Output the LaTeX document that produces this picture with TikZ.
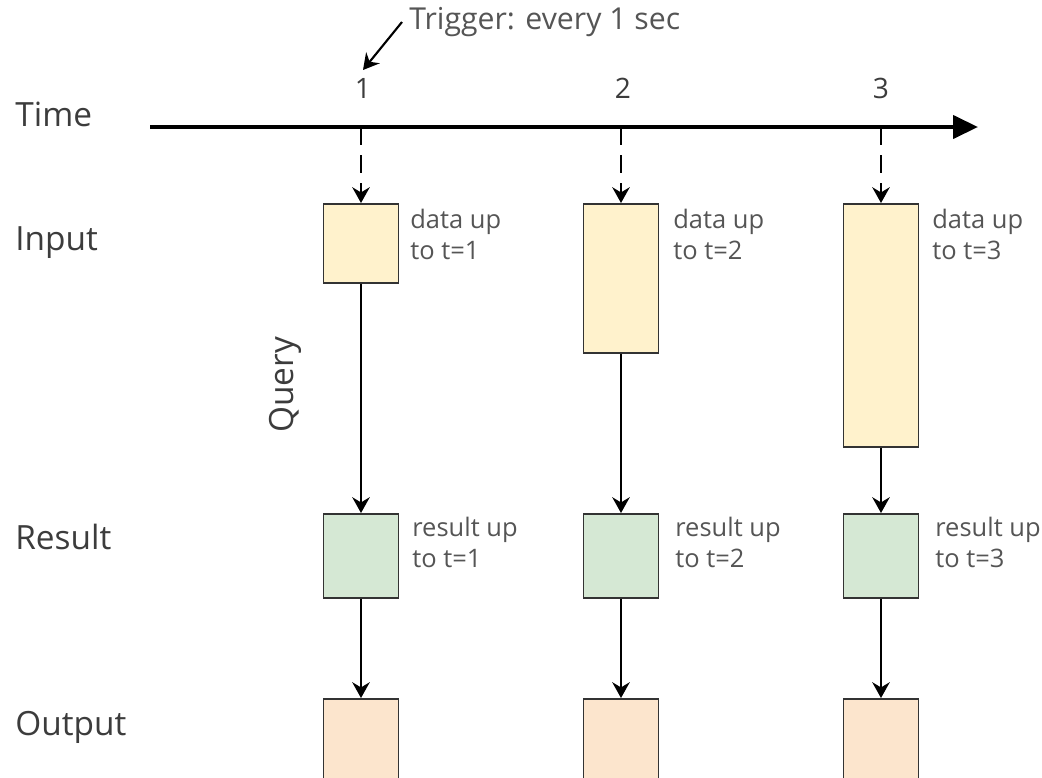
\documentclass[tikz,border=0pt]{standalone}
\usepackage{fontspec}
\setmainfont{Open Sans}
\usetikzlibrary{arrows.meta,positioning}
\definecolor{inputfill}{HTML}{FFF2CC}
\definecolor{resultfill}{HTML}{D5E8D4}
\definecolor{outputfill}{HTML}{FCE5CD}
\definecolor{boxline}{HTML}{333333}
\definecolor{labelgray}{HTML}{3C3C3C}
\definecolor{notegray}{HTML}{555555}
\tikzset{
  rowlabel/.style={anchor=west,text=labelgray,inner sep=0pt,font=\fontsize{19}{22}\selectfont},
  note/.style={anchor=north west,text=notegray,inner sep=0pt,align=left,font=\fontsize{14.5}{17.5}\selectfont},
  ticklabel/.style={text=labelgray,font=\fontsize{16}{19}\selectfont},
  databox/.style={draw=boxline,line width=1.1pt,anchor=north,inner sep=0pt,minimum width=1.5cm},
  flow/.style={line width=1.2pt,-{Stealth[length=9pt,width=10pt,inset=3pt]}}
}
\begin{document}
\begin{tikzpicture}[x=0.02cm,y=-0.02cm]
\useasboundingbox (0,0) rectangle (1042,778);

% row labels
\node[rowlabel] (time) at (15,114) {Time};
\node[rowlabel] (input) at (15,243) {Input};
\node[rowlabel] (result) at (15,537) {Result};
\node[rowlabel] (output) at (15,727) {Output};
\node[rowlabel,anchor=center,rotate=90] (query) at (285,385) {Query};

% time axis
\coordinate (t0) at (150,127);
\coordinate (tend) at (978,127);
\coordinate (t1) at (361,127);
\coordinate (t2) at (621,127);
\coordinate (t3) at (881,127);
\draw [line width=2.4pt,-{Triangle[length=0.5cm,width=0.46cm]}](t0) -- (tend);
\node[ticklabel] (n1) at (363,88) {1};
\node[ticklabel] (n2) at (623,88) {2};
\node[ticklabel] (n3) at (881,88) {3};

% trigger
\node[note,anchor=west,inner xsep=4pt,font=\fontsize{17.2}{20}\selectfont] (trig) at (402,22) {Trigger: every 1 sec};
\coordinate (trigtip) at (363,70);
\draw [flow](trig.west) -- (trigtip);

% input boxes
\node[databox,fill=inputfill,minimum height=1.58cm] (in1) at (361,203) {};
\node[databox,fill=inputfill,minimum height=2.98cm] (in2) at (621,203) {};
\node[databox,fill=inputfill,minimum height=4.86cm] (in3) at (881,203) {};
\node[note] (d1) at (410,209) {data up\\to t=1};
\node[note] (d2) at (673,209) {data up\\to t=2};
\node[note] (d3) at (932,209) {data up\\to t=3};

% result boxes
\node[databox,fill=resultfill,minimum height=1.68cm] (res1) at (361,513) {};
\node[databox,fill=resultfill,minimum height=1.68cm] (res2) at (621,513) {};
\node[databox,fill=resultfill,minimum height=1.68cm] (res3) at (881,513) {};
\node[note] (r1) at (412,517) {result up\\to t=1};
\node[note] (r2) at (675,517) {result up\\to t=2};
\node[note] (r3) at (935,517) {result up\\to t=3};

% output boxes
\node[databox,fill=outputfill,minimum height=2cm] (out1) at (361,698) {};
\node[databox,fill=outputfill,minimum height=2cm] (out2) at (621,698) {};
\node[databox,fill=outputfill,minimum height=2cm] (out3) at (881,698) {};

% arrows
\foreach \i in {1,2,3}{
  \draw [flow,dash pattern=on 10pt off 6pt](t\i) -- (in\i.north);
  \draw [flow](in\i.south) -- (res\i.north);
  \draw [flow](res\i.south) -- (out\i.north);
}
\end{tikzpicture}
\end{document}
